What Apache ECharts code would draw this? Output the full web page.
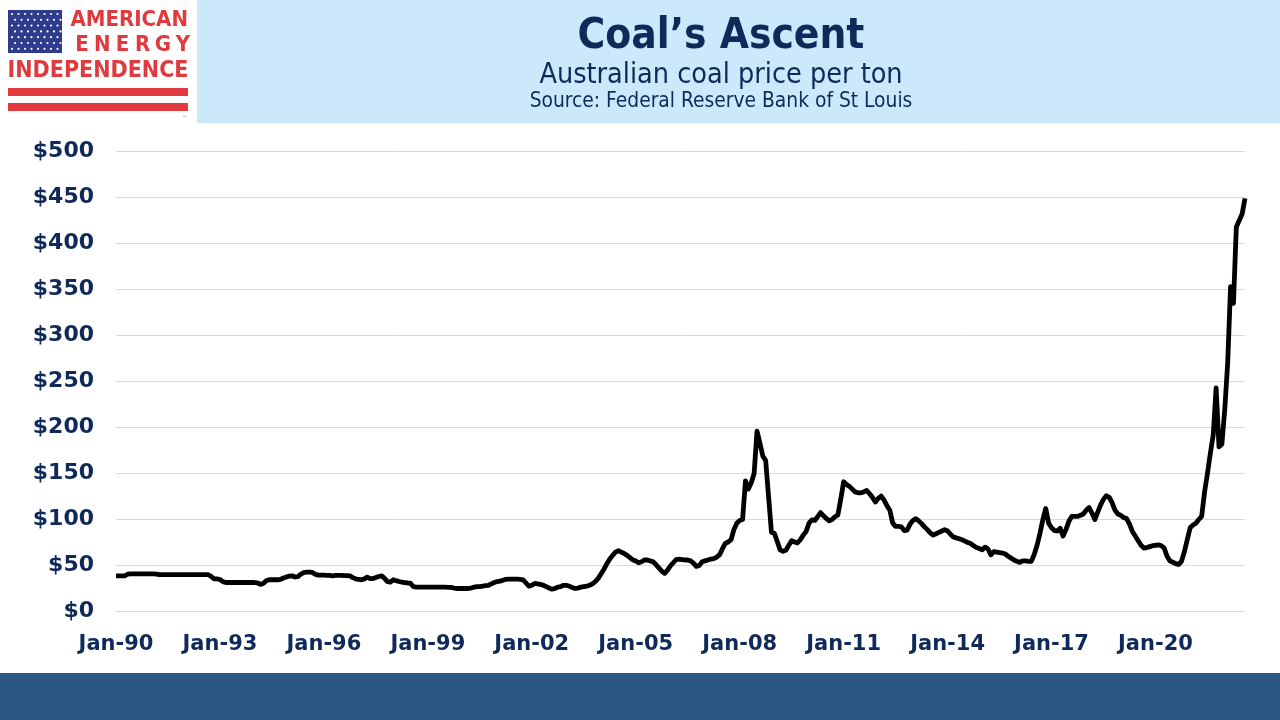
<!DOCTYPE html>
<html lang="en">
<head>
    <meta charset="utf-8">
    <title>Coal's Ascent</title>
    <script src="https://cdn.jsdelivr.net/npm/echarts@6/dist/echarts.min.js"></script>
    <style>
        html, body { margin: 0; height: 100%; background: #fff; }
        #main { width: 1280px; height: 720px; }
    </style>
</head>
<body>
<div id="main"></div>
<script>
    // monthly Australian coal price, USD per ton, Jan-1990 .. Aug-2022
    var price1990s = [
        38.8, 38.8, 38.8, 38.8, 40.5, 41, 41, 41, 41, 41, 41, 41,
        41, 41, 40.5, 40, 40, 40, 40, 40, 40, 40, 40, 40,
        40, 40, 40, 40, 40, 40, 40, 40, 40, 38, 35.5, 35.5,
        34.8, 32.5, 31.5, 31.5, 31.5, 31.5, 31.5, 31.5, 31.5, 31.5, 31.5, 31.5,
        31.5, 31.2, 29.5, 30.5, 33.5, 34.5, 34.5, 34.5, 34.5, 34.8, 36.5, 37.5,
        38.5, 38.8, 37.5, 38, 40.5, 42.3, 42.8, 42.8, 42.5, 40.5, 39.5, 39.5,
        39.5, 39.2, 39.2, 38.8, 39.2, 39.2, 39.2, 39, 39, 38.8, 36.8, 35.5,
        34.8, 34.5, 35.5, 37.4, 35.8, 35.8, 37, 38, 38.8, 36, 32.5, 32,
        34.5, 33.5, 32.6, 32, 31.5, 31, 30.8, 27, 26.5, 26.5, 26.5, 26.5,
        26.5, 26.5, 26.5, 26.5, 26.5, 26.5, 26.5, 26.3, 26.3, 25.5, 25, 25
    ];
    var price2000s = [
        25, 25, 25, 25.5, 26.5, 27, 27, 27.5, 28, 28.5, 30, 31.5,
        32.6, 33, 34, 35, 35.2, 35.2, 35.2, 35.2, 35, 34.5, 31, 27.5,
        28.5, 30.5, 30, 29.5, 28.5, 27, 25.5, 24.3, 25, 26.5, 27, 28.5,
        28.5, 27.5, 26, 25, 25.5, 26.5, 27, 27.5, 28.5, 30, 32.6, 36,
        41, 46, 52, 57, 61, 64.5, 66, 64.5, 63, 61, 58.5, 56,
        55, 53, 54, 56, 56, 55, 54, 51, 47.5, 44, 41.5, 45,
        49.5, 53, 56.5, 57, 56.5, 56, 56, 55, 52.6, 49, 50, 54,
        55, 56, 57, 57.5, 59, 61.6, 68, 74, 75.5, 78, 89, 96,
        99, 100, 142, 133, 140, 150, 196, 183, 169, 164, 125, 86,
        85, 76, 67, 65.5, 66.5, 72, 77, 75.5, 74.5, 78, 83, 87
    ];
    var price2010s = [
        96, 99.5, 99, 103, 107.6, 104, 101, 98.5, 100, 103, 105, 122,
        141, 138, 136, 133, 130, 129, 129, 130, 131.5, 128, 124, 119,
        123, 125.5, 121, 115, 110, 96, 92.5, 92.5, 92, 88, 88.5, 95,
        99, 101, 98.5, 95.5, 92, 89, 85.5, 83, 84.5, 86, 87.5, 89,
        87.5, 84, 81, 80, 79, 78, 76.5, 75, 73.8, 71.5, 69.5, 68.5,
        67, 70, 68, 61.6, 65, 64.5, 64, 63.5, 62.5, 60, 58, 56,
        54.5, 53.3, 55, 55, 54.5, 54.5, 62, 72, 85, 100, 112, 96,
        91, 88, 87.5, 90.5, 82, 89, 98, 103.3, 103.3, 103.3, 104.5, 106,
        110, 113, 107, 100, 108, 116, 122, 125.8, 124, 118, 110, 106,
        104.5, 102, 101, 95, 87, 82, 77, 72, 69, 69.5, 70.5, 71.5
    ];
    var price2020s = [
        72, 72.5, 71.5, 69, 60, 55, 53.5, 52, 51, 54.5, 65, 78,
        91, 94, 96, 100, 103.5, 130, 150, 172, 192, 243, 179, 182,
        220, 270, 353, 335, 418, 425, 432, 449
    ];
    var prices = price1990s.concat(price2000s, price2010s, price2020s);

    var firstYear = 1990;
    var monthNames = ['Jan', 'Feb', 'Mar', 'Apr', 'May', 'Jun', 'Jul', 'Aug', 'Sep', 'Oct', 'Nov', 'Dec'];
    var months = [];
    for (var i = 0; i < prices.length; i++) {
        var yy = (firstYear + Math.floor(i / 12)) % 100;
        months.push(monthNames[i % 12] + '-' + (yy < 10 ? '0' : '') + yy);
    }
    var yTicks = [0, 500, 50];

    var navy = '#0f2a5a';
    var red = '#e0393e';
    var font = '"DejaVu Sans Condensed", "DejaVu Sans", sans-serif';
    var wideFont = '"DejaVu Sans", sans-serif';

    // logo flag stars
    var stars = [];
    for (var r = 0; r < 7; r++) {
        for (var c = 0; c < 8; c++) {
            stars.push({
                type: 'circle',
                shape: { cx: 12 + c * 6.5 + (r % 2) * 3, cy: 14 + r * 5.8, r: 1.1 },
                style: { fill: '#ffffff' }
            });
        }
    }
    var energyLetters = ['E', 'N', 'E', 'R', 'G', 'Y'];
    var energy = energyLetters.map(function (ch, k) {
        return {
            type: 'text', x: 82 + k * 20.2, y: 45,
            style: { text: ch, fill: red, font: 'bold 22px ' + font, textAlign: 'center', textVerticalAlign: 'middle' }
        };
    });

    var myChart = echarts.init(document.getElementById('main'));
    var option = {
        backgroundColor: '#ffffff',
        animation: false,
        textStyle: { fontFamily: font },
        graphic: [
            { type: 'rect', shape: { x: 197, y: 0, width: 1083, height: 123 }, style: { fill: '#cce9fc' } },
            { type: 'rect', shape: { x: 0, y: 673, width: 1280, height: 47 }, style: { fill: '#2b5783' } },
            // logo
            { type: 'rect', shape: { x: 8, y: 10, width: 54, height: 43 }, style: { fill: '#2f3b8c' } },
            { type: 'group', children: stars },
            { type: 'text', x: 188, y: 20, style: { text: 'AMERICAN', fill: red, font: 'bold 22px ' + font, textAlign: 'right', textVerticalAlign: 'middle' } },
            { type: 'group', children: energy },
            { type: 'text', x: 98, y: 71, style: { text: 'INDEPENDENCE', fill: red, font: 'bold 23px ' + font, textAlign: 'center', textVerticalAlign: 'middle' } },
            { type: 'rect', shape: { x: 8, y: 88, width: 180, height: 8 }, style: { fill: red } },
            { type: 'rect', shape: { x: 8, y: 103, width: 180, height: 8 }, style: { fill: red } },
            { type: 'text', x: 185, y: 118, style: { text: '™', fill: '#888', font: '6px ' + font, textAlign: 'center', textVerticalAlign: 'middle' } },
            // titles
            { type: 'text', x: 721, y: 37, style: { text: 'Coal’s Ascent', fill: navy, font: 'bold 42px ' + font, textAlign: 'center', textVerticalAlign: 'middle' } },
            { type: 'text', x: 721, y: 76, style: { text: 'Australian coal price per ton', fill: navy, font: '28.5px ' + font, textAlign: 'center', textVerticalAlign: 'middle' } },
            { type: 'text', x: 721, y: 102, style: { text: 'Source: Federal Reserve Bank of St Louis', fill: navy, font: '20.8px ' + font, textAlign: 'center', textVerticalAlign: 'middle' } }
        ],
        grid: { left: 116, right: 35, top: 151.5, bottom: 108.5, containLabel: false },
        xAxis: {
            type: 'category',
            data: months,
            boundaryGap: false,
            axisLine: { show: false },
            axisTick: { show: false },
            axisLabel: {
                interval: function (index) { return index % 36 === 0; },
                color: navy,
                fontWeight: 'bold',
                fontSize: 21,
                margin: 23,
                fontFamily: wideFont
            },
            splitLine: { show: false }
        },
        yAxis: {
            type: 'value',
            min: yTicks[0],
            max: yTicks[1],
            interval: yTicks[2],
            axisLine: { show: false },
            axisTick: { show: false },
            axisLabel: {
                formatter: function (v) { return '$' + v; },
                color: navy,
                fontWeight: 'bold',
                fontSize: 22,
                margin: 22,
                fontFamily: wideFont
            },
            splitLine: { lineStyle: { color: '#d9d9d9', width: 1 } }
        },
        series: [
            {
                name: 'Coal',
                type: 'line',
                data: prices,
                showSymbol: false,
                lineStyle: { color: '#000000', width: 4.8, join: 'round' },
                itemStyle: { color: '#000000' }
            }
        ]
    };
    myChart.setOption(option);
</script>
</body>
</html>
